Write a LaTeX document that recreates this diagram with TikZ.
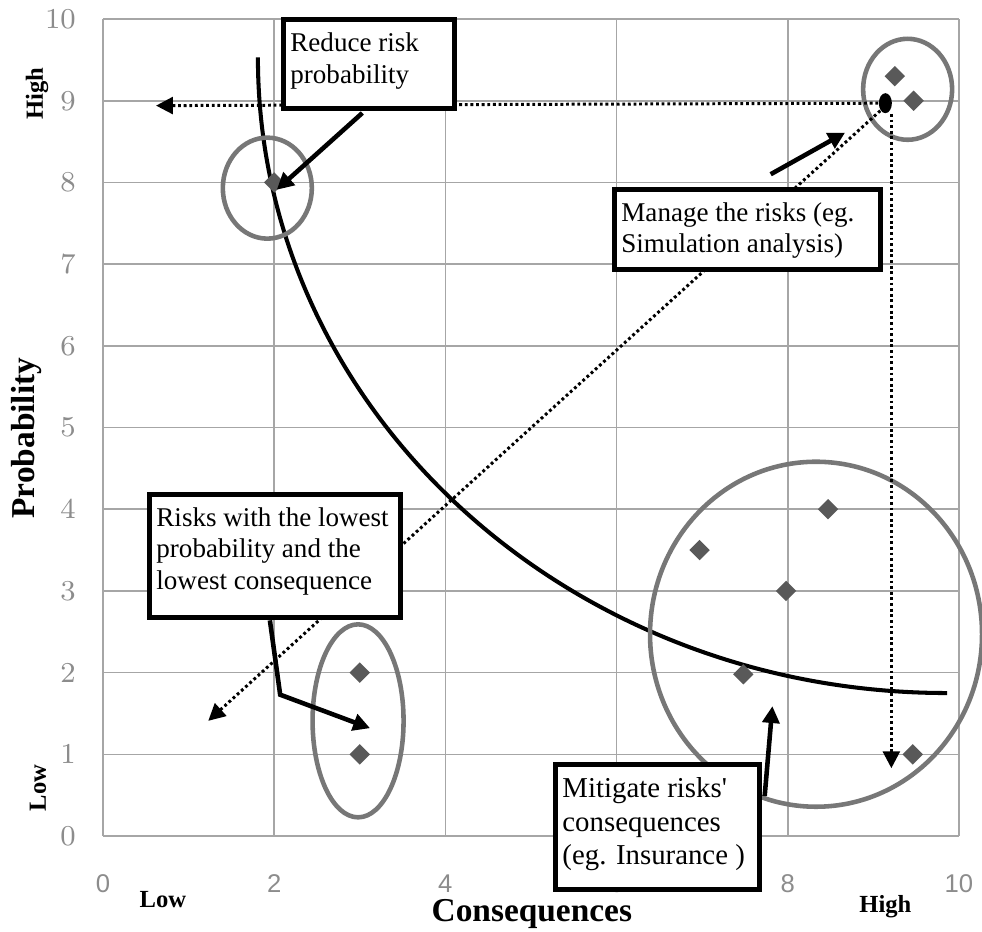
\documentclass[tikz,border=0pt]{standalone}
\usepackage{fontspec}
\newfontfamily\notefont{Liberation Serif}
\newfontfamily\ticksans{Liberation Sans}
\usetikzlibrary{arrows.meta, shapes.geometric, positioning}
\definecolor{GGray}{HTML}{A6A6A6}
\definecolor{RGray}{HTML}{777777}
\definecolor{DGray}{HTML}{595959}
\definecolor{TGray}{HTML}{8C8C8C}
\NewDocumentCommand{\RiskPoint}{m m}{
    \node[risk] (#1) at #2 {};
}
\newcommand{\Canvas}{
\useasboundingbox (-1.203,-1.163) rectangle (10.269,10.233);
\draw[GGray, line width=0.45pt] (0,0) grid[xstep=2, ystep=1] (10,10);
\foreach \y in {0,...,10}
    \node[ytick] (ytick-\y) at (-0.31,\y) {\y};
\foreach \x in {0,2,...,10}
    \node[xtick] (xtick-\x) at (\x,-0.58) {\x};
}

\begin{document}
\begin{tikzpicture}[x=0.856cm, y=0.817cm,
    risk/.style={diamond, fill=DGray, inner sep=0pt, minimum size=0.21cm},
    ring/.style={ellipse, draw=RGray, line width=1.3pt, inner sep=0pt},
    note/.style={draw=black, line width=1.4pt, fill=white, anchor=north west,
        inner xsep=0.07cm, inner ysep=0.13cm, font=\notefont\fontsize{7.7}{9}\selectfont},
    bigarrow/.style={line width=1.3pt, -{Triangle[length=4.8pt, width=4.8pt]}},
    dotarrow/.style={line width=0.85pt, dash pattern=on 0.8pt off 0.8pt,
        -{Triangle[length=4.8pt, width=4.8pt]}},
    ytick/.style={anchor=east, text=TGray, inner sep=0pt, font=\fontsize{8.2}{9}\selectfont},
    xtick/.style={text=TGray, inner sep=0pt, font=\ticksans\fontsize{7.3}{9}\selectfont},
    axislabel/.style={inner sep=0pt, font=\notefont\bfseries\fontsize{9.5}{11}\selectfont},
    hilo/.style={inner sep=0pt, font=\notefont\bfseries\fontsize{7}{8}\selectfont}]
\Canvas

% risk boundary
\draw[line width=1.15pt] (1.81,9.53) arc[start angle=180, end angle=270,
    x radius=6.891cm, y radius=6.356cm];

% groups of risks
\node[ring, minimum width=0.89cm, minimum height=1.01cm] (ring-reduce) at (1.92,7.93) {};
\node[ring, minimum width=0.89cm, minimum height=1.01cm] (ring-high) at (9.40,9.14) {};
\node[ring, minimum width=0.91cm, minimum height=1.93cm] (ring-low) at (2.98,1.41) {};
\node[ring, minimum width=3.32cm, minimum height=3.45cm] (ring-mitigate) at (8.33,2.47) {};

\RiskPoint{p-2-8}{(2,8)}
\RiskPoint{p-3-2}{(3,2)}
\RiskPoint{p-3-1}{(3,1)}
\RiskPoint{p-9-9a}{(9.25,9.3)}
\RiskPoint{p-9-9b}{(9.47,9)}
\RiskPoint{p-7-3}{(6.97,3.5)}
\RiskPoint{p-8-4}{(8.47,4)}
\RiskPoint{p-8-3}{(7.98,3)}
\RiskPoint{p-7-2}{(7.48,1.98)}
\RiskPoint{p-9-1}{(9.46,1)}

% moving the top risk
\coordinate (left-tip) at (0.62,8.94);
\coordinate (down-tip) at (9.21,0.83);
\coordinate (diag-tip) at (1.23,1.41);
\node[ellipse, fill=black, inner sep=0pt, minimum width=0.13cm, minimum height=0.2cm] (sim-dot) at (9.14,8.97) {};
\draw[dotarrow] (sim-dot.south west) -- (diag-tip);
\draw[dotarrow] (sim-dot) -- (left-tip);
\draw[dotarrow] (sim-dot.south -| down-tip) -- (down-tip);

% notes
\node[note] (reduce) at (2.079,10.02)
    {\parbox[t][0.63cm][t]{1.57cm}{Reduce risk\\probability}};
\node[note] (manage) at (5.946,7.944)
    {\parbox[t][0.54cm][t]{2.52cm}{Manage the risks (eg.\\Simulation analysis)}};
\node[note] (lowest) at (0.514,4.211)
    {\parbox[t][0.97cm][t]{2.37cm}{Risks with the lowest\\probability and the\\lowest consequence}};
\node[note, font=\notefont\fontsize{8.2}{9.6}\selectfont] (mitigate) at (5.257,0.906)
    {\parbox[t][0.99cm][t]{1.90cm}{Mitigate risks'\\consequences\\(eg. Insurance )}};

\coordinate (reduce-tail) at (3.03,8.85);
\coordinate (reduce-tip) at (2.03,7.91);
\coordinate (manage-tail) at (7.80,8.10);
\coordinate (manage-tip) at (8.67,8.61);
\coordinate (lowest-tail) at (1.95,2.64);
\coordinate (lowest-bend) at (2.07,1.73);
\coordinate (lowest-tip) at (3.12,1.32);
\coordinate (mitigate-tail) at (7.73,0.49);
\coordinate (mitigate-tip) at (7.82,1.59);
\draw[bigarrow] (reduce-tail) -- (reduce-tip);
\draw[bigarrow] (manage-tail) -- (manage-tip);
\draw[bigarrow] (lowest-tail) -- (lowest-bend) -- (lowest-tip);
\draw[bigarrow] (mitigate-tail) -- (mitigate-tip);

% axes
\node[axislabel, rotate=90] (prob-label) at (-0.89,4.87) {Probability};
\node[axislabel] (cons-label) at (5.01,-0.95) {Consequences};
\node[hilo, rotate=90] (y-high) at (-0.77,9.09) {High};
\node[hilo, rotate=90] (y-low) at (-0.76,0.59) {Low};
\node[hilo] (x-low) at (0.70,-0.78) {Low};
\node[hilo] (x-high) at (9.14,-0.87) {High};
\end{tikzpicture}
\end{document}
